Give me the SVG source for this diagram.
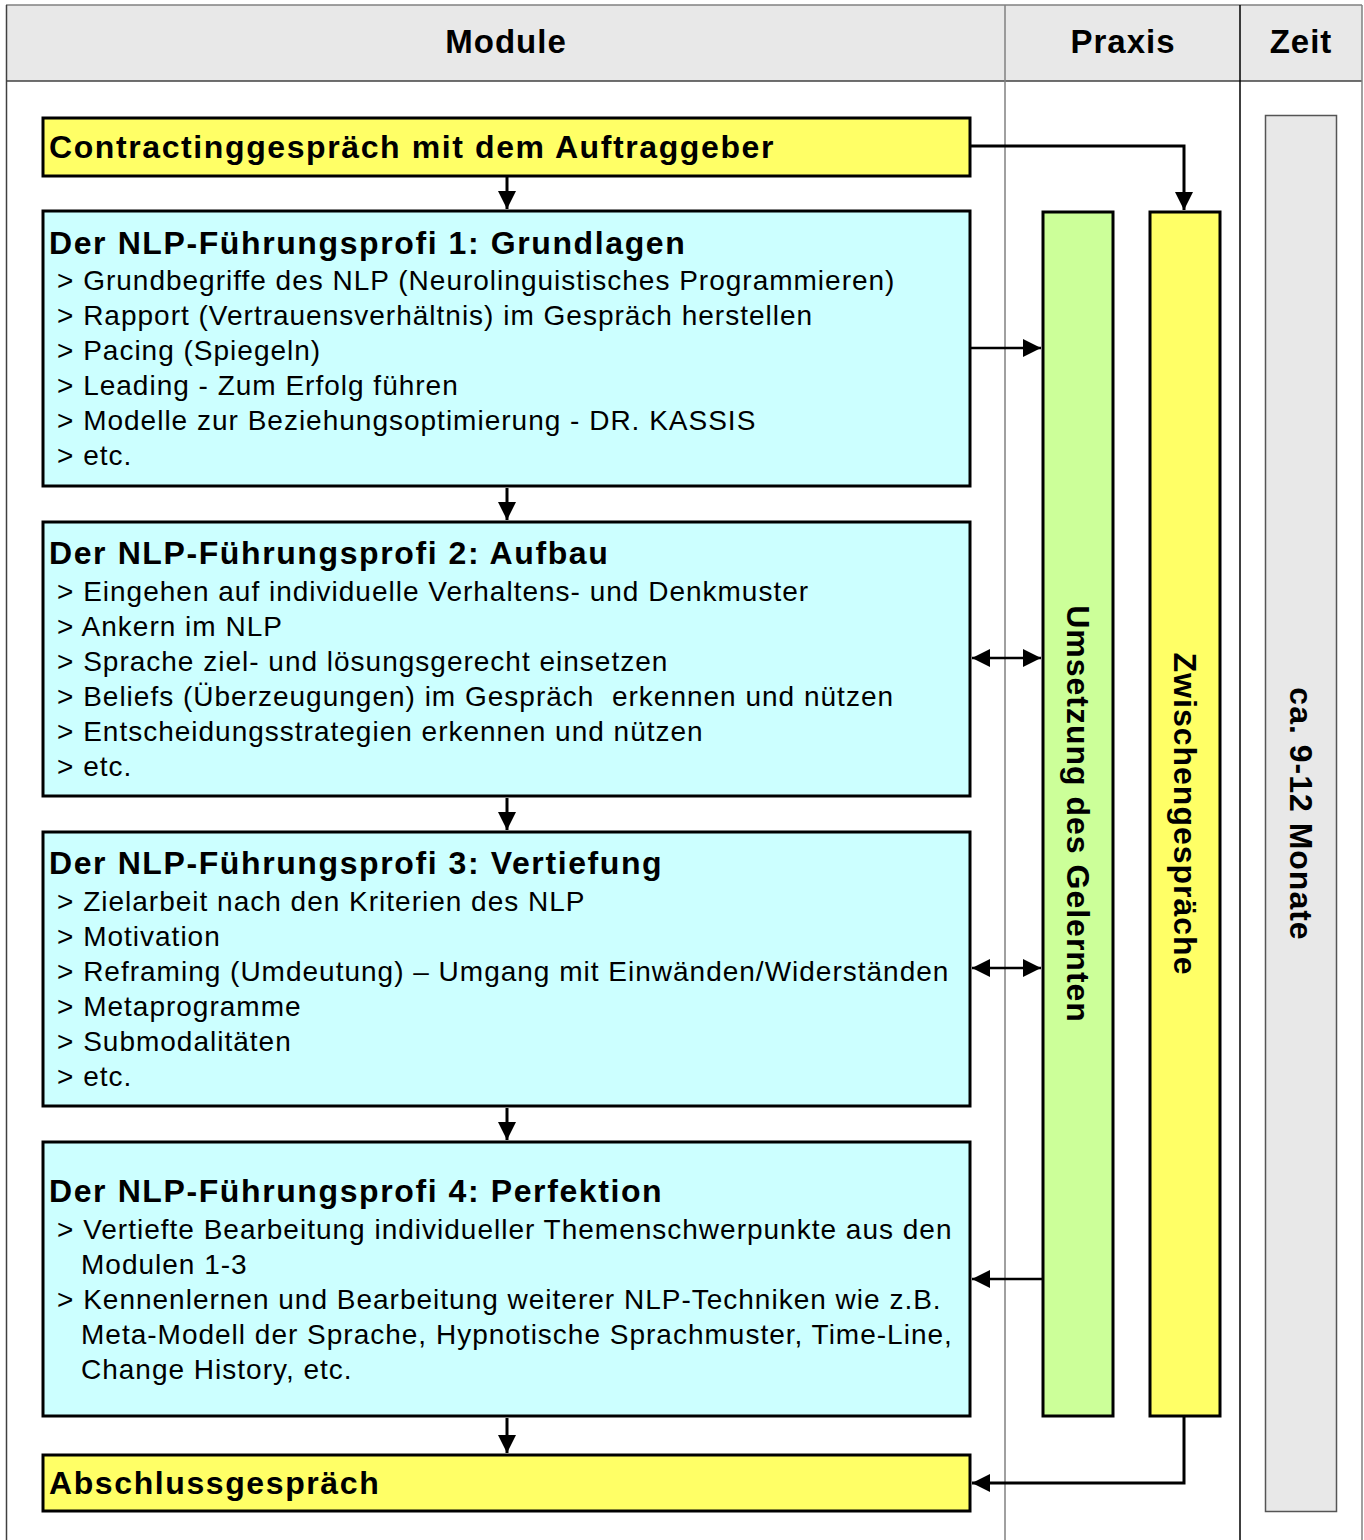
<svg xmlns="http://www.w3.org/2000/svg" width="1364" height="1540" viewBox="0 0 1364 1540">
<style>
.hdr{font-family:"Liberation Sans",Arial,sans-serif;font-weight:bold;font-size:33px;letter-spacing:1px;fill:#000;text-anchor:middle}
.ttl{font-family:"Liberation Sans",Arial,sans-serif;font-weight:bold;font-size:32px;letter-spacing:1.6px;fill:#000}
.bd{font-family:"Liberation Sans",Arial,sans-serif;font-size:28px;letter-spacing:1px;fill:#000}
.vt{font-family:"Liberation Sans",Arial,sans-serif;font-weight:bold;font-size:32px;letter-spacing:1px;fill:#000;text-anchor:middle}
.yel{fill:#ffff66;stroke:#000;stroke-width:3}
.cyn{fill:#ccffff;stroke:#000;stroke-width:3}
.grn{fill:#ccff99;stroke:#000;stroke-width:3}
.con{fill:none;stroke:#000;stroke-width:3}
.con2{fill:none;stroke:#000;stroke-width:2.5}
</style>
<defs>
<marker id="ah" markerUnits="userSpaceOnUse" markerWidth="18" markerHeight="18" refX="18" refY="9" orient="auto-start-reverse">
<path d="M0,0 L18,9 L0,18 z" fill="#000"/>
</marker>
</defs>
<rect width="1364" height="1540" fill="#fff"/>
<g id="frame">
<rect x="6" y="5" width="1356" height="76" fill="#e8e8e8"/>
<line x1="6" y1="5" x2="1362" y2="5" stroke="#808080" stroke-width="1.5"/>
<line x1="6" y1="81" x2="1362" y2="81" stroke="#404040" stroke-width="1.5"/>
<line x1="6.5" y1="5" x2="6.5" y2="1540" stroke="#404040" stroke-width="1.5"/>
<line x1="1362" y1="5" x2="1362" y2="1540" stroke="#808080" stroke-width="1.5"/>
<line x1="1005" y1="5" x2="1005" y2="1540" stroke="#808080" stroke-width="1.5"/>
<line x1="1240" y1="5" x2="1240" y2="1540" stroke="#000" stroke-width="1.5"/>
<text class="hdr" x="506" y="53">Module</text>
<text class="hdr" x="1123" y="53">Praxis</text>
<text class="hdr" x="1301" y="53">Zeit</text>
</g>
<g id="connectors">
<path class="con" d="M507,177 V209" marker-end="url(#ah)"/>
<path class="con" d="M507,488 V520" marker-end="url(#ah)"/>
<path class="con" d="M507,798 V830" marker-end="url(#ah)"/>
<path class="con" d="M507,1108 V1140" marker-end="url(#ah)"/>
<path class="con" d="M507,1418 V1453" marker-end="url(#ah)"/>
<path class="con" d="M971,146 H1184 V210" marker-end="url(#ah)"/>
<path class="con2" d="M971,348 H1041" marker-end="url(#ah)"/>
<path class="con2" d="M972,658 H1041" marker-start="url(#ah)" marker-end="url(#ah)"/>
<path class="con2" d="M972,968 H1041" marker-start="url(#ah)" marker-end="url(#ah)"/>
<path class="con2" d="M1042,1279 H972" marker-end="url(#ah)"/>
<path class="con" d="M1184,1417 V1483 H972" marker-end="url(#ah)"/>
</g>
<g id="contracting">
<rect class="yel" x="43" y="118" width="927" height="58"/>
<text class="ttl" x="49" y="158">Contractinggespräch mit dem Auftraggeber</text>
</g>
<g id="modul1">
<rect class="cyn" x="43" y="211" width="927" height="275"/>
<text class="ttl" x="49" y="254">Der NLP-Führungsprofi 1: Grundlagen</text>
<text class="bd" x="57" y="290">&gt; Grundbegriffe des NLP (Neurolinguistisches Programmieren)</text>
<text class="bd" x="57" y="325">&gt; Rapport (Vertrauensverhältnis) im Gespräch herstellen</text>
<text class="bd" x="57" y="360">&gt; Pacing (Spiegeln)</text>
<text class="bd" x="57" y="395">&gt; Leading - Zum Erfolg führen</text>
<text class="bd" x="57" y="430">&gt; Modelle zur Beziehungsoptimierung - DR. KASSIS</text>
<text class="bd" x="57" y="465">&gt; etc.</text>
</g>
<g id="modul2">
<rect class="cyn" x="43" y="522" width="927" height="274"/>
<text class="ttl" x="49" y="564">Der NLP-Führungsprofi 2: Aufbau</text>
<text class="bd" x="57" y="601">&gt; Eingehen auf individuelle Verhaltens- und Denkmuster</text>
<text class="bd" x="57" y="636">&gt; Ankern im NLP</text>
<text class="bd" x="57" y="671">&gt; Sprache ziel- und lösungsgerecht einsetzen</text>
<text class="bd" x="57" y="706" xml:space="preserve">&gt; Beliefs (Überzeugungen) im Gespräch  erkennen und nützen</text>
<text class="bd" x="57" y="741">&gt; Entscheidungsstrategien erkennen und nützen</text>
<text class="bd" x="57" y="776">&gt; etc.</text>
</g>
<g id="modul3">
<rect class="cyn" x="43" y="832" width="927" height="274"/>
<text class="ttl" x="49" y="874">Der NLP-Führungsprofi 3: Vertiefung</text>
<text class="bd" x="57" y="911">&gt; Zielarbeit nach den Kriterien des NLP</text>
<text class="bd" x="57" y="946">&gt; Motivation</text>
<text class="bd" x="57" y="981">&gt; Reframing (Umdeutung) – Umgang mit Einwänden/Widerständen</text>
<text class="bd" x="57" y="1016">&gt; Metaprogramme</text>
<text class="bd" x="57" y="1051">&gt; Submodalitäten</text>
<text class="bd" x="57" y="1086">&gt; etc.</text>
</g>
<g id="modul4">
<rect class="cyn" x="43" y="1142" width="927" height="274"/>
<text class="ttl" x="49" y="1202">Der NLP-Führungsprofi 4: Perfektion</text>
<text class="bd" x="57" y="1239">&gt; Vertiefte Bearbeitung individueller Themenschwerpunkte aus den</text>
<text class="bd" x="81" y="1274">Modulen 1-3</text>
<text class="bd" x="57" y="1309">&gt; Kennenlernen und Bearbeitung weiterer NLP-Techniken wie z.B.</text>
<text class="bd" x="81" y="1344">Meta-Modell der Sprache, Hypnotische Sprachmuster, Time-Line,</text>
<text class="bd" x="81" y="1379">Change History, etc.</text>
</g>
<g id="abschluss">
<rect class="yel" x="43" y="1455" width="927" height="56"/>
<text class="ttl" x="49" y="1494">Abschlussgespräch</text>
</g>
<g id="umsetzung">
<rect class="grn" x="1043" y="212" width="70" height="1204"/>
<text class="vt" transform="translate(1078,814) rotate(90)" x="0" y="11">Umsetzung des Gelernten</text>
</g>
<g id="zwischengespraeche">
<rect class="yel" x="1150" y="212" width="70" height="1204"/>
<text class="vt" transform="translate(1185,814) rotate(90)" x="0" y="11">Zwischengespräche</text>
</g>
<g id="zeitraum">
<rect x="1265.5" y="115.5" width="71" height="1396" fill="#e8e8e8" stroke="#555" stroke-width="1.5"/>
<text class="vt" transform="translate(1301,814) rotate(90)" x="0" y="11">ca. 9-12 Monate</text>
</g>
</svg>
